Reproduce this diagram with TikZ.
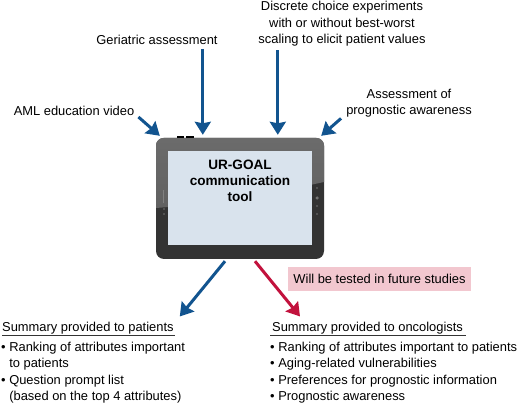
\documentclass[tikz,border=0pt]{standalone}
\usepackage{fontspec}
\setmainfont{Liberation Sans}
\usetikzlibrary{arrows.meta,calc,positioning}
\definecolor{urblue}{rgb}{0.07,0.33,0.56}
\definecolor{urred}{rgb}{0.76,0.07,0.24}
\definecolor{pastelpink}{rgb}{0.95,0.78,0.81}
\definecolor{screenblue}{rgb}{0.85,0.89,0.93}
\definecolor{tabletdark}{rgb}{0.2,0.2,0.2}
\definecolor{tabletgray}{rgb}{0.42,0.42,0.42}
\tikzset{
  label/.style={
    align=center,
    inner sep=0pt,
    font=\fontsize{12.9}{16.4}\selectfont
  },
  liste/.style={
    align=left,
    anchor=north west,
    inner sep=0pt,
    font=\fontsize{12.9}{16.4}\selectfont
  },
  titre/.style={
    anchor=base west,
    inner sep=0pt,
    font=\fontsize{12.9}{16.4}\selectfont
  },
  arrow/.style={
    -{Stealth[length=13pt,width=16pt,inset=1.5pt]},
    line width=3pt,
    urblue
  },
  bouton/.style={
    circle,
    fill=black!55,
    inner sep=0pt,
    minimum size=1.6pt
  }
}
\begin{document}
\begin{tikzpicture}[x=1pt,y=-1pt]
\useasboundingbox (0,0) rectangle (520,406);
% tablet
\node[draw=none, fill=tabletdark, rounded corners=8pt, minimum width=168pt, minimum height=121pt, inner sep=0pt] (tablet) at (240,198.5) {};
\begin{scope}
\clip[rounded corners=8pt] (tablet.south west) rectangle (tablet.north east);
\shade[top color=tabletgray, bottom color=black!62] (156,138) -- (324,138) -- (324,182) .. controls (270,194) and (210,204) .. (156,208) -- cycle;
\end{scope}
\fill[black] (177,136) rectangle (184,138);
\fill[black] (186,136) rectangle (194,138);
\draw[black!50, line width=.5pt] (163,190) -- (163,203);
\node[bouton] (g1) at (164,209) {};
\node[bouton] (g2) at (164,214) {};
\node[bouton] (d1) at (317,188) {};
\node[bouton, minimum size=3.5pt] (d2) at (317,198) {};
\node[bouton] (d3) at (317,206) {};
\node[bouton] (d4) at (317,214) {};
\node[fill=screenblue, minimum width=144pt, minimum height=94pt, inner sep=0pt] (screen) at (240,198) {};
\node[align=center, inner sep=0pt, font=\fontsize{13.6}{16}\selectfont\bfseries] (outil) at (240,181) {UR-GOAL\\communication\\tool};
% labels
\node[label] (video) at (74,111) {AML education video};
\node[label] (geriatric) at (157,40) {Geriatric assessment};
\node[label] (choice) at (342,24) {Discrete choice experiments\\with or without best-worst\\scaling to elicit patient values};
\node[label] (awareness) at (409,103) {Assessment of\\prognostic awareness};
\node[fill=pastelpink, minimum width=183pt, minimum height=24pt, inner sep=0pt, font=\fontsize{12.9}{15}\selectfont] (futur) at (379.5,279) {Will be tested in future studies};
% summaries
\node[titre] (patients) at (2,332) {Summary provided to patients};
\draw[black!80, line width=.5pt] (2,335.5) -- (175,335.5);
\node[liste] (listepat) at (1,342) {• Ranking of attributes important\\\phantom{• }to patients\\• Question prompt list\\\phantom{• }(based on the top 4 attributes)};
\node[titre] (onco) at (272,332) {Summary provided to oncologists};
\draw[black!80, line width=.5pt] (270,335.5) -- (466,335.5);
\node[liste] (listeonc) at (270,342) {• Ranking of attributes important to patients\\• Aging-related vulnerabilities\\• Preferences for prognostic information\\• Prognostic awareness};
% arrows
\draw[arrow] ($(video.east)+(4,6)$) -- ($(tablet.north west)+(4,-2)$);
\draw[arrow] ($(geriatric.south -| tablet.north west)+(47,4)$) -- ($(tablet.north west)+(47,-3)$);
\draw[arrow] ($(choice.south -| tablet.north west)+(122,3.5)$) -- ($(tablet.north west)+(122,-3)$);
\draw[arrow] ($(awareness.south west)+(-5,1)$) -- ($(tablet.north east)+(-3,-2)$);
\draw[arrow] ($(tablet.south)+(-15,2)$) -- ($(patients.north east)+(6,-6)$);
\draw[arrow, urred] ($(tablet.south)+(15,2)$) -- ($(onco.north west)+(28,-6)$);
\end{tikzpicture}
\end{document}
